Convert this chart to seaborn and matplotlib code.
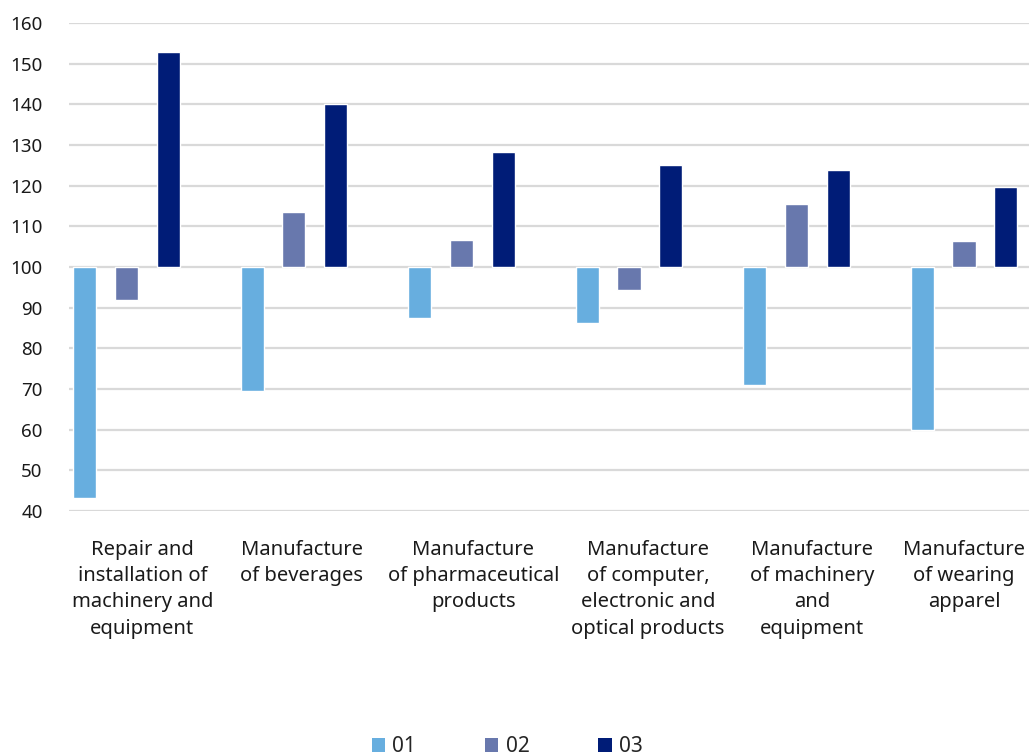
import matplotlib
matplotlib.use("Agg")
import matplotlib.pyplot as plt
import matplotlib.transforms as mtransforms
from matplotlib.patches import Patch
import seaborn as sns
import pandas as pd

categories = [
    "Repair and\ninstallation of\nmachinery and\nequipment",
    "Manufacture\nof beverages",
    "Manufacture\nof pharmaceutical\nproducts",
    "Manufacture\nof computer,\nelectronic and\noptical products",
    "Manufacture\nof machinery\nand\nequipment",
    "Manufacture\nof wearing\napparel",
]
series_names = ["01", "02", "03"]
values_01 = [43.2, 69.5, 87.5, 86.2, 71.0, 59.8]
values_02 = [91.9, 113.5, 106.6, 94.3, 115.5, 106.4]
values_03 = [152.8, 140.0, 128.3, 125.1, 123.8, 119.7]
baseline = 100
yticks = [40, 50, 60, 70, 80, 90, 100, 110, 120, 130, 140, 150, 160]
colors = ["#67AEDF", "#6878AD", "#001C77"]

rows = []
for name, vals in zip(series_names, [values_01, values_02, values_03]):
    for cat, v in zip(categories, vals):
        rows.append({"category": cat, "series": name, "value": v, "delta": v - baseline})
df = pd.DataFrame(rows)

sns.set_theme(style="white")
plt.rcParams["font.family"] = ["Noto Sans", "DejaVu Sans"]

fig = plt.figure(figsize=(10.29, 7.56), dpi=100)
ax = fig.add_axes([69 / 1029, 1 - 511 / 756, 1 - 69 / 1029, (511 - 23) / 756])

sns.barplot(data=df, x="category", y="delta", hue="series", order=categories,
            hue_order=series_names, palette=colors, width=0.75, gap=0.45,
            errorbar=None, bottom=baseline, ax=ax, legend=False, saturation=1)

ax.set_ylim(40, 160)
ax.set_yticks(yticks)
ax.set_xlim(-0.343, 5.388)
ax.grid(axis="y", color="#D9D9D9", linewidth=1.6)
ax.grid(axis="x", visible=False)
ax.set_axisbelow(True)
for s in ax.spines.values():
    s.set_visible(False)
ax.set_xlabel("")
ax.set_ylabel("")
ax.tick_params(axis="y", length=0, pad=19, labelsize=13.5, labelcolor="#1a1a1a")
ax.tick_params(axis="x", length=0, pad=21, labelsize=14.5, labelcolor="#1a1a1a")
label_shift_px = [16, 8, 12, 19, 16, 0]
for lbl, dx in zip(ax.get_xticklabels(), label_shift_px):
    lbl.set_linespacing(1.41)
    lbl.set_transform(lbl.get_transform() +
                      mtransforms.ScaledTranslation(dx / 100, 0, fig.dpi_scale_trans))

handles = [Patch(facecolor=c, edgecolor="none") for c in colors]
fig.legend(handles, series_names, loc="center", bbox_to_anchor=(0.493, 0.012),
           ncol=3, frameon=False, fontsize=15, handlelength=0.65, handleheight=0.65,
           handletextpad=0.35, columnspacing=3.3)

fig.savefig("out.png", dpi=100)
